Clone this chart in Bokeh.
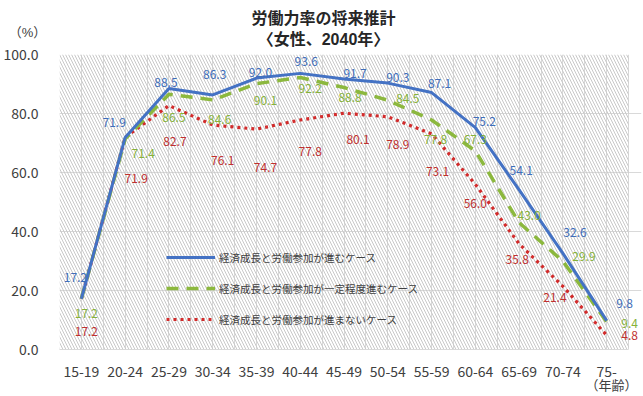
from bokeh.plotting import figure
from bokeh.models import (ColumnDataSource, Range1d, FixedTicker, NumeralTickFormatter,
                          LabelSet, Label, Legend, LegendItem, BoxAnnotation)
from bokeh.core.properties import value
from bokeh.embed import file_html
from bokeh.resources import INLINE

# ---- data ----
ages = ["15-19", "20-24", "25-29", "30-34", "35-39", "40-44", "45-49",
        "50-54", "55-59", "60-64", "65-69", "70-74", "75-"]
case_full = [17.2, 71.9, 88.5, 86.3, 92.0, 93.6, 91.7, 90.3, 87.1, 75.2, 54.1, 32.6, 9.8]
case_partial = [17.2, 71.4, 86.5, 84.6, 90.1, 92.2, 88.8, 84.5, 77.8, 67.3, 43.0, 29.9, 9.4]
case_none = [17.2, 71.9, 82.7, 76.1, 74.7, 77.8, 80.1, 78.9, 73.1, 56.0, 35.8, 21.4, 4.8]
series_names = ["経済成長と労働参加が進むケース",
                "経済成長と労働参加が一定程度進むケース",
                "経済成長と労働参加が進まないケース"]
y_ticks = [0, 20, 40, 60, 80, 100]

# ---- label placement (screen px; dy positive = downward) ----
full_dx = [-6, -11, -3, 2, 4, 6, 11, 10, 8, 9, 2, 12, 18]
full_dy = [-21, -15, -6, -20, -6, -12, -5, -6, -9, -6, -19, -21, -17]
partial_dx = [5, 18, 5, 7, 9, 10, 6, 20, 4, 0, 10, 21, 23]
partial_dy = [15, 15, 23, 20, 17, 11, 10, -2, 20, -11, -7, -5, 2]
none_dx = [5, 11, 6, 10, 9, 10, 14, 10, 6, 0, -2, -8, 23]
none_dy = [33, 41, 36, 35, 38, 32, 26, 28, 38, 19, 16, 11, 0]

FONT = "Noto Sans CJK JP"
SIDE_FONT = "Liberation Sans, Noto Sans CJK JP"
BLUE = "#4472C4"
GREEN = "#8CB83E"
RED = "#D22B2B"
BLUE_T = "#3F6EBA"
GREEN_T = "#86B23A"
RED_T = "#C0302F"
TXT = "#404040"

n = len(ages)
p = figure(width=643, height=396, output_backend="svg", toolbar_location=None,
           x_range=Range1d(-0.5, 12.795), y_range=Range1d(0, 100),
           min_border_left=56, min_border_right=2, min_border_top=54, min_border_bottom=47)
p.outline_line_color = None
p.background_fill_color = "white"

# hatched plot area
p.add_layout(BoxAnnotation(left=-0.5, right=n - 0.5, fill_alpha=0, line_color=None,
                           hatch_pattern="\\", hatch_color="#C8C8C8", hatch_scale=6,
                           hatch_weight=1, level="underlay"))

x = list(range(n))

def make_src(vals, dx, dy):
    return ColumnDataSource(dict(x=x, y=vals, t=[f"{v:.1f}" for v in vals],
                                 dx=dx, dy=[-d for d in dy]))

s_full = make_src(case_full, full_dx, full_dy)
s_part = make_src(case_partial, partial_dx, partial_dy)
s_none = make_src(case_none, none_dx, none_dy)

r_none = p.line("x", "y", source=s_none, line_color=RED, line_width=3.2, line_dash="3 4")
r_part = p.line("x", "y", source=s_part, line_color=GREEN, line_width=3.5, line_dash="12 8")
r_full = p.line("x", "y", source=s_full, line_color=BLUE, line_width=3)

for src, col in [(s_full, BLUE_T), (s_part, GREEN_T), (s_none, RED_T)]:
    p.add_layout(LabelSet(x="x", y="y", text="t", source=src, x_offset="dx", y_offset="dy",
                          text_align="center", text_baseline="middle",
                          text_font=value(FONT), text_font_size="12px", text_color=col))

# axes
p.xaxis.ticker = FixedTicker(ticks=x)
p.xaxis.major_label_overrides = {i: a for i, a in enumerate(ages)}
p.xaxis.major_tick_line_color = None
p.xaxis.minor_tick_line_color = None
p.xaxis.axis_line_color = "#D9D9D9"
p.xaxis.bounds = (-0.5, n - 0.5)
p.xaxis.major_label_text_font = FONT
p.xaxis.major_label_text_font_size = "14px"
p.xaxis.major_label_text_color = TXT
p.xaxis.major_label_standoff = 10

p.yaxis.ticker = FixedTicker(ticks=y_ticks)
p.yaxis.formatter = NumeralTickFormatter(format="0.0")
p.yaxis.major_tick_line_color = None
p.yaxis.minor_tick_line_color = None
p.yaxis.axis_line_color = None
p.yaxis.major_label_text_font = FONT
p.yaxis.major_label_text_font_size = "14px"
p.yaxis.major_label_text_color = TXT
p.yaxis.major_label_standoff = 15

p.xgrid.ticker = FixedTicker(ticks=[-0.5 + 0.5 * k for k in range(2 * n + 1)])
p.xgrid.grid_line_color = "#D9D9D9"
p.ygrid.ticker = FixedTicker(ticks=y_ticks)
p.ygrid.grid_line_color = "#D9D9D9"
p.ygrid.bounds = (-0.5, n - 0.5)

# legend
legend = Legend(items=[LegendItem(label=series_names[0], renderers=[r_full]),
                       LegendItem(label=series_names[1], renderers=[r_part]),
                       LegendItem(label=series_names[2], renderers=[r_none])],
                location=(107, 20), glyph_width=49, glyph_height=20, label_height=20,
                label_standoff=4, spacing=11, padding=0, margin=0,
                border_line_color=None, background_fill_alpha=0,
                label_text_font=FONT, label_text_font_size="10.5px", label_text_color=TXT)
p.add_layout(legend)

# title lines and unit labels (canvas px, drawn in the side panels)
def side_label(txt, cx, cy, size, bold, place, color=TXT):
    p.add_layout(Label(x=cx, y=cy, x_units="canvas", y_units="canvas", text=txt,
                       text_font=SIDE_FONT, text_font_size=size,
                       text_font_style="bold" if bold else "normal",
                       text_align="center", text_baseline="middle", text_color=color), place)

side_label("労働力率の将来推計", 323, 18, "16px", True, "above", "#262626")
side_label("〈女性、2040年〉", 323, 39, "16px", True, "above", "#262626")
side_label("（%）", 27, 32, "13px", False, "above")
side_label("（年齢）", 611, 385, "13px", False, "below")

open("out.html", "w").write(file_html(p, INLINE))
